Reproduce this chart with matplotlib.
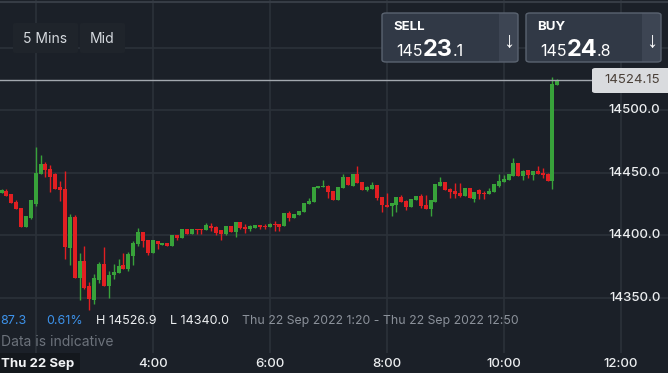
import matplotlib
matplotlib.use("Agg")
import matplotlib.pyplot as plt
from matplotlib.patches import FancyBboxPatch, Rectangle
import numpy as np

# 5-minute candles (index 0 = first visible candle)
OPEN = [14434.1, 14435.4, 14433.0, 14426.6, 14421.8, 14406.9, 14413.6, 14425.3, 14449.3, 14457.0,
        14453.0, 14449.3, 14438.6, 14437.0, 14390.1, 14414.6, 14366.1, 14379.4, 14359.4, 14348.5,
        14364.2, 14377.0, 14359.7, 14368.2, 14370.1, 14376.2, 14373.0, 14383.7, 14393.0, 14402.6,
        14396.2, 14386.1, 14395.4, 14392.5, 14393.8, 14391.7, 14400.2, 14398.1, 14405.0, 14401.3,
        14405.0, 14404.8, 14404.2, 14407.4, 14406.4, 14404.2, 14401.3, 14407.4, 14402.9, 14410.6,
        14406.9, 14405.3, 14406.1, 14408.2, 14407.7, 14406.6, 14409.0, 14409.0, 14407.4, 14417.8,
        14413.9, 14416.2, 14418.6, 14425.0, 14426.6, 14438.1, 14438.4, 14439.4, 14435.4, 14428.2,
        14438.1, 14446.6, 14439.4, 14449.0, 14442.6, 14436.2, 14437.0, 14440.2, 14430.6, 14424.2,
        14423.7, 14424.2, 14430.6, 14427.4, 14422.6, 14428.2, 14431.4, 14424.2, 14421.0, 14426.6,
        14439.7, 14442.6, 14437.0, 14435.4, 14433.8, 14431.4, 14437.8, 14429.0, 14436.2, 14433.8,
        14433.0, 14434.6, 14439.4, 14442.6, 14444.2, 14447.4, 14457.8, 14447.4, 14452.2, 14448.2,
        14451.4, 14449.8, 14449.0, 14443.4, 14520.2]
HIGH = [14436.8, 14437.0, 14433.0, 14428.2, 14421.8, 14415.4, 14428.2, 14470.6, 14464.2, 14458.6,
        14456.2, 14450.1, 14443.4, 14451.4, 14417.0, 14416.2, 14385.8, 14391.4, 14362.6, 14369.0,
        14378.6, 14390.6, 14371.4, 14377.0, 14381.0, 14385.8, 14386.6, 14395.4, 14405.8, 14402.6,
        14396.2, 14396.2, 14395.4, 14394.1, 14393.8, 14400.2, 14400.2, 14405.0, 14405.0, 14405.0,
        14405.0, 14404.8, 14409.8, 14409.8, 14407.4, 14404.2, 14407.4, 14407.4, 14410.6, 14410.6,
        14409.0, 14408.5, 14408.2, 14408.2, 14409.0, 14410.1, 14411.7, 14409.0, 14417.8, 14419.4,
        14417.3, 14419.7, 14426.1, 14429.8, 14438.6, 14439.4, 14444.2, 14440.5, 14435.4, 14438.6,
        14449.0, 14446.6, 14449.0, 14455.4, 14442.6, 14439.4, 14442.6, 14440.2, 14430.6, 14433.8,
        14425.8, 14430.6, 14432.2, 14428.2, 14429.0, 14431.4, 14433.0, 14432.2, 14428.2, 14441.0,
        14446.6, 14442.6, 14437.8, 14441.8, 14441.8, 14437.8, 14437.8, 14434.6, 14437.0, 14435.4,
        14437.8, 14441.0, 14449.0, 14448.2, 14449.0, 14461.8, 14457.8, 14452.2, 14452.2, 14451.4,
        14455.4, 14453.8, 14449.8, 14526.9, 14524.8]
LOW = [14433.5, 14431.7, 14426.1, 14421.3, 14406.9, 14406.9, 14412.8, 14423.7, 14449.3, 14446.9,
       14434.9, 14437.0, 14427.7, 14381.3, 14376.5, 14366.1, 14348.5, 14356.8, 14340.0, 14345.3,
       14362.1, 14359.7, 14350.1, 14365.3, 14370.1, 14373.0, 14371.7, 14376.5, 14391.4, 14390.6,
       14384.5, 14386.1, 14389.0, 14392.5, 14391.7, 14391.7, 14396.2, 14398.1, 14401.3, 14401.3,
       14401.3, 14401.3, 14404.2, 14403.7, 14400.2, 14396.5, 14400.5, 14402.9, 14398.9, 14405.0,
       14402.1, 14403.7, 14406.1, 14405.3, 14405.3, 14406.6, 14403.7, 14403.7, 14407.4, 14411.7,
       14413.9, 14416.2, 14418.6, 14425.0, 14426.6, 14438.1, 14438.4, 14430.1, 14428.2, 14428.2,
       14438.1, 14440.2, 14439.4, 14442.1, 14436.2, 14435.4, 14437.0, 14428.2, 14418.6, 14422.9,
       14415.4, 14418.6, 14426.6, 14420.2, 14422.6, 14428.2, 14421.8, 14421.0, 14415.4, 14426.6,
       14439.7, 14436.2, 14429.8, 14429.8, 14430.6, 14431.4, 14429.8, 14426.6, 14429.0, 14429.0,
       14433.0, 14434.6, 14438.6, 14442.6, 14444.2, 14447.4, 14447.4, 14444.2, 14445.8, 14444.2,
       14449.0, 14445.8, 14443.4, 14437.0, 14520.2]
CLOSE = [14436.2, 14431.7, 14426.1, 14421.3, 14406.9, 14415.4, 14428.2, 14449.8, 14457.0, 14452.2,
         14446.9, 14437.0, 14436.2, 14390.6, 14414.4, 14366.1, 14379.4, 14358.1, 14349.0, 14365.8,
         14377.0, 14359.7, 14368.2, 14370.6, 14375.4, 14373.0, 14385.0, 14393.8, 14402.6, 14395.4,
         14385.8, 14396.2, 14393.3, 14394.1, 14391.7, 14400.2, 14397.8, 14405.0, 14401.3, 14405.0,
         14404.5, 14404.2, 14408.2, 14406.1, 14401.8, 14401.3, 14407.4, 14402.9, 14410.6, 14405.6,
         14405.3, 14407.4, 14408.2, 14406.6, 14406.6, 14409.0, 14408.0, 14406.6, 14417.8, 14413.6,
         14417.3, 14419.7, 14426.1, 14427.4, 14438.6, 14439.4, 14439.4, 14434.9, 14428.2, 14438.6,
         14446.6, 14440.2, 14449.0, 14442.1, 14436.2, 14438.6, 14440.2, 14429.8, 14424.2, 14422.9,
         14425.8, 14430.6, 14426.6, 14422.6, 14429.0, 14431.4, 14423.4, 14421.0, 14428.2, 14441.0,
         14442.6, 14436.2, 14434.6, 14433.0, 14431.4, 14437.8, 14429.8, 14434.6, 14433.0, 14433.0,
         14435.4, 14441.0, 14443.4, 14445.0, 14449.0, 14457.8, 14447.4, 14451.4, 14448.2, 14451.4,
         14449.0, 14448.2, 14443.4, 14521.0, 14524.2]

TIME_TICKS = [7, 31, 55, 79, 103, 127]          # candle index of each 2-hour gridline
TIME_LABELS = ["", "4:00", "6:00", "8:00", "10:00", "12:00"]
PRICE_GRID = [14350, 14400, 14450, 14500, 14550]
PRICE_LABELS = [14350, 14400, 14450, 14500]
LAST = 14524.15
SELL = ("145", "23", ".1")
BUY = ("145", "24", ".8")

BG, GRID = "#1b2028", "#2b3139"
GREEN, RED = "#38a23a", "#e11f22"
W, H = 668, 373
FONT = "Inter"

fig = plt.figure(figsize=(W / 100, H / 100), dpi=100, facecolor=BG)
ax = fig.add_axes([0, 20 / H, 1, 353 / H])
ax.set_facecolor(BG)
for s in ax.spines.values():
    s.set_visible(False)
ax.set_xlim(-0.323, 136.7)
ax.set_ylim(14305.84, 14588.24)
ax.set_xticks(TIME_TICKS)
ax.set_yticks(PRICE_GRID)
ax.tick_params(length=0, labelbottom=False, labelleft=False)
ax.grid(True, color=GRID, lw=1.2)
ax.set_axisbelow(True)

o, h, l, c = map(np.array, (OPEN, HIGH, LOW, CLOSE))
x = np.arange(len(o))
cols = np.where(c >= o, GREEN, RED)
ax.vlines(x, l, h, colors=cols, lw=1, zorder=3)
bottom = np.minimum(o, c)
height = np.maximum(np.abs(c - o), 0.9)
ax.bar(x, height, bottom=bottom, width=0.82, color=cols, zorder=4)


def fx(px):
    return px / W


def fy(py):
    return 1 - py / H


# last price line + tag
ax.axhline(LAST, xmax=592 / W, color="#a3a8af", lw=1, zorder=5)
fig.add_artist(FancyBboxPatch((fx(592), fy(93)), fx(80), 25 / H, transform=fig.transFigure,
                              boxstyle="round,pad=0,rounding_size=0.005", fc="#d9dbde", ec="none"))
tag_y = fig.transFigure.inverted().transform(ax.transData.transform((0, LAST)))[1]
fig.text(fx(660), tag_y, f"{LAST:.2f}", ha="right", va="center", fontsize=9.5, family=FONT,
         color="#4a4038")

# price axis labels
for p in PRICE_LABELS:
    ax.text(660.5 / W, p, f"{p:.1f}", transform=ax.get_yaxis_transform(),
            ha="right", va="center", fontsize=9.5, family=FONT, weight="medium", color="#eceef0")

# time axis labels
for t, lab in zip(TIME_TICKS, TIME_LABELS):
    if lab:
        ax.text(t, -11 / 353, lab, transform=ax.get_xaxis_transform(), ha="center", va="center",
                fontsize=9.5, family=FONT, weight="medium", color="#eceef0", clip_on=False)

fig.add_artist(Rectangle((0, fy(373)), fx(80), 20 / H, transform=fig.transFigure, fc="#14181d", ec="none"))
fig.text(fx(1), fy(364), "Thu 22 Sep", ha="left", va="center", fontsize=9.5, family=FONT,
         weight="bold", color="#f2f3f5")

# top separator
fig.add_artist(plt.Line2D([0, 1], [fy(2), fy(2)], transform=fig.transFigure, color="#363c45", lw=1.5))

# interval buttons
for x0, x1, lab in [(13, 78, "5 Mins"), (80, 125, "Mid")]:
    fig.add_artist(FancyBboxPatch((fx(x0), fy(53)), fx(x1 - x0), 30 / H, transform=fig.transFigure,
                                  boxstyle="round,pad=0,rounding_size=0.004", fc="#1f242b", ec="none"))
    fig.text(fx((x0 + x1) / 2), fy(39), lab, ha="center", va="center", fontsize=10,
             family=FONT, color="#d5d9de")

# SELL / BUY boxes
for x0, x1, title, parts in [(382, 518, "SELL", SELL), (526, 661, "BUY", BUY)]:
    y0, y1 = 13, 62
    div = x1 - 19
    fig.add_artist(FancyBboxPatch((fx(x0), fy(y1)), fx(x1 - x0), (y1 - y0) / H, transform=fig.transFigure,
                                  boxstyle="round,pad=0,rounding_size=0.006", fc="#313946", ec="none"))
    fig.add_artist(FancyBboxPatch((fx(div), fy(y1)), fx(x1 - div), (y1 - y0) / H, transform=fig.transFigure,
                                  boxstyle="round,pad=0,rounding_size=0.006", fc="#3d4553", ec="none"))
    fig.add_artist(Rectangle((fx(div), fy(y1)), fx(5), (y1 - y0) / H, transform=fig.transFigure,
                             fc="#3d4553", ec="none"))
    fig.add_artist(FancyBboxPatch((fx(x0), fy(y1)), fx(x1 - x0), (y1 - y0) / H, transform=fig.transFigure,
                                  boxstyle="round,pad=0,rounding_size=0.006", fc="none", ec="#5a6370", lw=1))
    fig.text(fx(x0 + 11), fy(26.5), title, ha="left", va="center", fontsize=9.5, family=FONT,
             weight="bold", color="#ffffff")
    fig.text(fx(x0 + 14), fy(56.5), parts[0], ha="left", va="baseline", fontsize=11.5, family=FONT,
             color="#ffffff")
    fig.text(fx(x0 + 41), fy(56.5), parts[1], ha="left", va="baseline", fontsize=17, family=FONT,
             weight="bold", color="#ffffff")
    fig.text(fx(x0 + 70.5), fy(56.5), parts[2], ha="left", va="baseline", fontsize=11.5, family=FONT,
             color="#ffffff")
    fig.text(fx(div + 9.5), fy(41), "\u2193", ha="center", va="center", fontsize=16,
             family=["Liberation Sans", "DejaVu Sans"], color="#ffffff")

# info rows
BLUE_TXT, WHITE_TXT, GREY_TXT = "#3d92ea", "#eef0f2", "#8b919a"
for px, txt, col, fs in [(0, "87.3", BLUE_TXT, 9), (46, "0.61%", BLUE_TXT, 9),
                         (96, "H 14526.9", WHITE_TXT, 9), (170, "L 14340.0", WHITE_TXT, 9),
                         (242, "Thu 22 Sep 2022 1:20 - Thu 22 Sep 2022 12:50", GREY_TXT, 8.85)]:
    fig.text(fx(px), fy(321), txt, ha="left", va="center", fontsize=fs, family=FONT, color=col)
fig.text(fx(1), fy(342), "Data is indicative", ha="left", va="center", fontsize=10, family=FONT,
         color="#6c727b")

fig.savefig("out.png", dpi=100, facecolor=BG)
